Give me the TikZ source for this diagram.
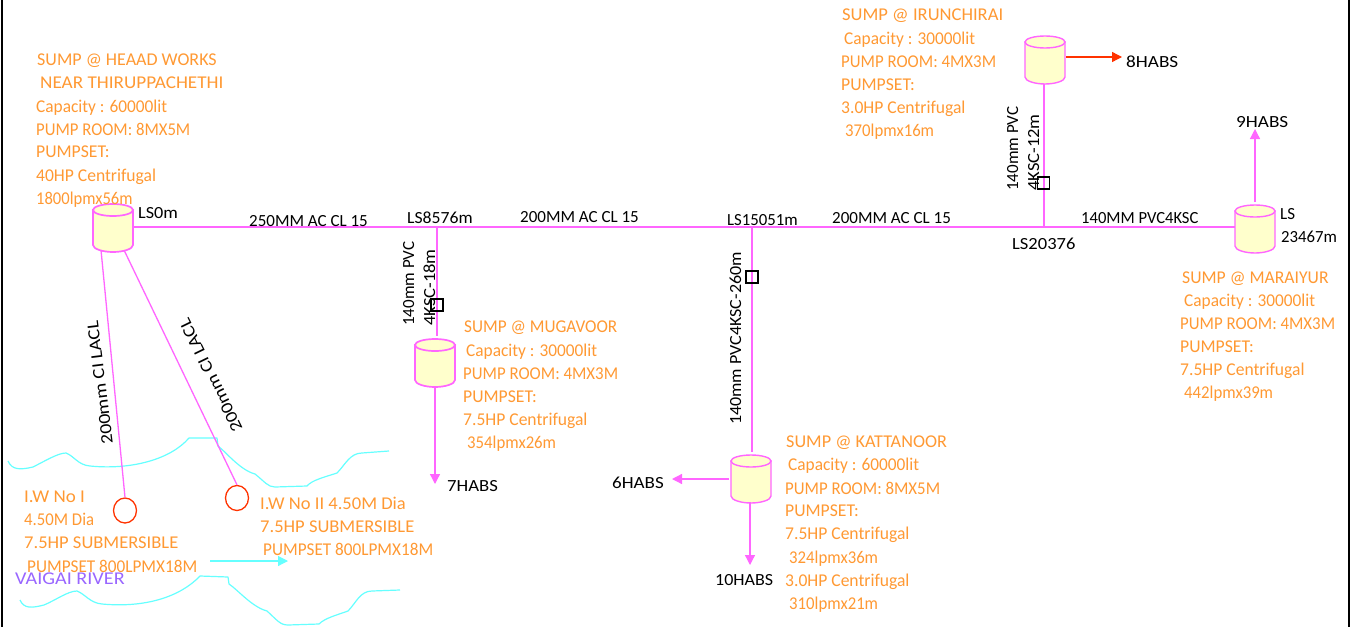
\documentclass[tikz,border=0pt]{standalone}
\usepackage{fontspec}
\usepackage{graphicx}
\setmainfont{Carlito}
\usetikzlibrary{arrows.meta,shapes.geometric}
\definecolor{pipec}{RGB}{255,102,255}
\definecolor{tankc}{RGB}{255,255,204}
\definecolor{orangetxt}{RGB}{255,153,51}
\definecolor{riverc}{RGB}{102,255,255}
\definecolor{redc}{RGB}{255,51,0}
\definecolor{violetc}{RGB}{153,102,255}
\tikzset{
  pipe/.style={draw=pipec,line width=1.3pt},
  flow/.style={pipe,-{Triangle[length=10pt,width=10pt]}},
  river/.style={draw=riverc,line width=1.2pt,line join=round},
  info/.style={text=orangetxt,font=\fontsize{18}{20}\selectfont,anchor=base west,inner sep=0pt},
  lab/.style={text=black,font=\fontsize{17}{20}\selectfont,anchor=base west,inner sep=0pt},
  vlab/.style={lab,rotate=90},
  valve/.style={draw=black,line width=1.1pt,fill=none,minimum size=12pt,inner sep=0pt},
  well/.style={draw=redc,line width=1.3pt,ellipse,minimum width=23pt,minimum height=25pt,inner sep=0pt},
}
\newcommand{\sx}[2]{\scalebox{#1}[1]{#2}}
\newcommand{\tanksym}[4]{%
  \coordinate (#1) at (#2,#3);
  \filldraw[pipe,fill=tankc,line width=#4] (#2-20,#3) -- (#2-20,#3+35) .. controls (#2-20,#3+39) and (#2-10,#3+42) .. (#2,#3+42) .. controls (#2+10,#3+42) and (#2+20,#3+39) .. (#2+20,#3+35) -- (#2+20,#3) -- cycle;
  \filldraw[pipe,fill=tankc,line width=#4] (#2,#3) ellipse [x radius=20,y radius=6];
}
\begin{document}
\begin{tikzpicture}[x=1pt,y=-1pt,line cap=butt]
\useasboundingbox (0,0) rectangle (1352,627);
\path[fill=white] (0,0) rectangle (1352,627);
% frame
\draw[black,line width=1.4pt] (2,0) -- (2,627);
\draw[black,line width=1.4pt] (1349,0) -- (1349,627);
% river
\draw[river] (8,461) .. controls (12,470) and (20,470) .. (33,467) .. controls (45,461) and (58,453) .. (66,453) .. controls (74,456) and (78,465) .. (90,466) .. controls (130,470) and (170,460) .. (189,438) -- (217,438) -- (218,446) .. controls (226,452) and (240,470) .. (255,474) .. controls (265,482) and (268,487) .. (275,487) -- (307,486) .. controls (312,480) and (325,477) .. (337,473) .. controls (345,465) and (350,453) .. (362,453) -- (389,451);
\draw[river] (20,600) .. controls (24,609) and (32,608) .. (44,605) .. controls (56,600) and (68,591) .. (77,591) .. controls (85,594) and (90,603) .. (102,604) .. controls (145,608) and (180,597) .. (200,576) -- (228,577) -- (229,584) .. controls (238,590) and (252,607) .. (267,611) .. controls (277,620) and (280,625) .. (288,625) -- (319,624) .. controls (325,618) and (337,615) .. (348,611) .. controls (356,603) and (360,591) .. (372,591) -- (400,590);
\coordinate (flowA) at (210,561);
\coordinate (flowB) at (288,561);
\draw[draw=riverc,line width=1.2pt,-{Triangle[length=10pt,width=10pt]}] (flowA) -- (flowB);
% junction coordinates
\coordinate (jA) at (437,227);
\coordinate (jB) at (752,227);
\coordinate (jC) at (1044,227);
\coordinate (mainS) at (134,227);
\coordinate (mainE) at (1235,227);
\coordinate (t1a) at (101,250);
\coordinate (t1b) at (124,250);
\coordinate (vA) at (437,336);
\coordinate (t3top) at (752,452);
\coordinate (t4bot) at (1044,84);
\node[well] (w1) at (125,510.5) {};
\node[well] (w2) at (237,498) {};
% pipes
\draw[pipe] (mainS) -- (mainE);
\draw[pipe] (jA) -- (vA);
\draw[pipe] (jB) -- (t3top);
\draw[pipe] (jC) -- (t4bot);
\draw[pipe] (t1a) -- (w1.north);
\draw[pipe] (t1b) -- (w2.north);
% tanks
\tanksym{t1}{113}{210}{1.7pt}
\tanksym{t2}{435}{345}{1.7pt}
\tanksym{t3}{751}{461}{1.4pt}
\tanksym{t4}{1045}{42}{1.4pt}
\tanksym{t5}{1255}{211}{1.4pt}
% flows
\coordinate (e7a) at (435,387);\coordinate (e7b) at (435,484);
\coordinate (e6a) at (729,479);\coordinate (e6b) at (672,479);
\coordinate (e10a) at (750,502);\coordinate (e10b) at (750,565);
\coordinate (e9a) at (1255,202);\coordinate (e9b) at (1255,129);
\coordinate (e8a) at (1066,57);\coordinate (e8b) at (1122,57);
\draw[flow] (e7a) -- (e7b);
\draw[flow] (e6a) -- (e6b);
\draw[flow] (e10a) -- (e10b);
\draw[flow] (e9a) -- (e9b);
\draw[draw=redc,line width=1.3pt,-{Triangle[length=10pt,width=10pt]}] (e8a) -- (e8b);
% valves
\node[valve] (v1) at (437,305) {};
\node[valve] (v2) at (752,277) {};
\node[valve] (v3) at (1043.5,183) {};
% info blocks
\node[info] (a1) at (37,65) {\sx{1.0}{SUMP @ HEAAD WORKS}};
\node[info] (a2) at (40,88) {\sx{1.065}{NEAR THIRUPPACHETHI}};
\node[info] (a3) at (36,112) {\sx{.96}{Capacity : 60000lit}};
\node[info] (a4) at (36,135) {\sx{.93}{PUMP ROOM: 8MX5M}};
\node[info] (a5) at (36,157) {\sx{.98}{PUMPSET:}};
\node[info] (a6) at (36,181) {\sx{.975}{40HP Centrifugal}};
\node[info] (a7) at (36,204) {\sx{.92}{1800lpmx56m}};
\node[info] (b1) at (842,20) {\sx{1.03}{SUMP @ IRUNCHIRAI}};
\node[info] (b2) at (844,44) {\sx{.96}{Capacity : 30000lit}};
\node[info] (b3) at (841,67) {\sx{.935}{PUMP ROOM: 4MX3M}};
\node[info] (b4) at (841,90) {\sx{.98}{PUMPSET:}};
\node[info] (b5) at (841,113) {\sx{.975}{3.0HP Centrifugal}};
\node[info] (b6) at (845,136) {\sx{.93}{370lpmx16m}};
\node[info] (c1) at (464,332) {\sx{.955}{SUMP @ MUGAVOOR}};
\node[info] (c2) at (466,356) {\sx{.96}{Capacity : 30000lit}};
\node[info] (c3) at (463,379) {\sx{.935}{PUMP ROOM: 4MX3M}};
\node[info] (c4) at (463,402) {\sx{.98}{PUMPSET:}};
\node[info] (c5) at (463,425) {\sx{.975}{7.5HP Centrifugal}};
\node[info] (c6) at (467,448) {\sx{.93}{354lpmx26m}};
\node[info] (d1) at (786,447) {\sx{1.01}{SUMP @ KATTANOOR}};
\node[info] (d2) at (788,470) {\sx{.96}{Capacity : 60000lit}};
\node[info] (d3) at (785,494) {\sx{.935}{PUMP ROOM: 8MX5M}};
\node[info] (d4) at (785,516) {\sx{.98}{PUMPSET:}};
\node[info] (d5) at (785,539) {\sx{.975}{7.5HP Centrifugal}};
\node[info] (d6) at (789,563) {\sx{.93}{324lpmx36m}};
\node[info] (d7) at (785,586) {\sx{.975}{3.0HP Centrifugal}};
\node[info] (d8) at (789,609) {\sx{.93}{310lpmx21m}};
\node[info] (f1) at (1182,283) {\sx{.98}{SUMP @ MARAIYUR}};
\node[info] (f2) at (1184,306) {\sx{.96}{Capacity : 30000lit}};
\node[info] (f3) at (1180,329) {\sx{.935}{PUMP ROOM: 4MX3M}};
\node[info] (f4) at (1180,352) {\sx{.98}{PUMPSET:}};
\node[info] (f5) at (1180,375) {\sx{.975}{7.5HP Centrifugal}};
\node[info] (f6) at (1184,398) {\sx{.93}{442lpmx39m}};
\node[info] (g1) at (24,502) {\sx{1.055}{I.W No I}};
\node[info] (g2) at (24,525) {\sx{.93}{4.50M Dia}};
\node[info] (g3) at (24,548) {\sx{1.03}{7.5HP SUBMERSIBLE}};
\node[info] (g4) at (27,572) {\sx{.955}{PUMPSET 800LPMX18M}};
\node[info] (h1) at (260,509) {\sx{1.03}{I.W No II 4.50M Dia}};
\node[info] (h2) at (260,532) {\sx{1.03}{7.5HP SUBMERSIBLE}};
\node[info] (h3) at (263,555) {\sx{.955}{PUMPSET 800LPMX18M}};
\node[info,text=violetc] (river) at (15,584) {\sx{1.12}{VAIGAI RIVER}};
% black labels
\node[lab] (l1) at (138,218) {\sx{1.07}{LS0m}};
\node[lab] (l2) at (249,226) {\sx{1.0}{250MM AC CL 15}};
\node[lab] (l3) at (407,223) {\sx{1.04}{LS8576m}};
\node[lab] (l4) at (520,222) {\sx{1.0}{200MM AC CL 15}};
\node[lab] (l5) at (727,225) {\sx{.985}{LS15051m}};
\node[lab] (l6) at (832,223) {\sx{1.0}{200MM AC CL 15}};
\node[lab] (l7) at (1012,249) {\sx{1.09}{LS20376}};
\node[lab] (l8) at (1081,223) {\sx{.975}{140MM PVC4KSC}};
\node[lab] (l9) at (1280,219) {LS};
\node[lab] (l10) at (1281,242) {\sx{.985}{23467m}};
\node[lab] (h8) at (1126,67) {\sx{1.13}{8HABS}};
\node[lab] (h9) at (1236,127) {\sx{1.13}{9HABS}};
\node[lab] (h7) at (447,491) {\sx{1.1}{7HABS}};
\node[lab] (h6) at (612,488) {\sx{1.12}{6HABS}};
\node[lab] (h10) at (715,585) {\sx{1.06}{10HABS}};
\node[vlab] (r1) at (414,326) {\sx{1.0}{140mm PVC}};
\node[vlab] (r2) at (435,326) {\sx{1.09}{4KSC-18m}};
\node[vlab] (r3) at (741,425) {\sx{1.06}{140mm PVC4KSC-260m}};
\node[vlab] (r4) at (1018,191) {\sx{1.0}{140mm PVC}};
\node[vlab] (r5) at (1039,191) {\sx{1.09}{4KSC-12m}};
\node[lab,rotate=97] (r6) at (113,444) {\sx{1.16}{200mm CI LACL}};
\node[lab,rotate=116] (r7) at (243,429) {\sx{1.16}{200mm CI LACL}};
\end{tikzpicture}
\end{document}
